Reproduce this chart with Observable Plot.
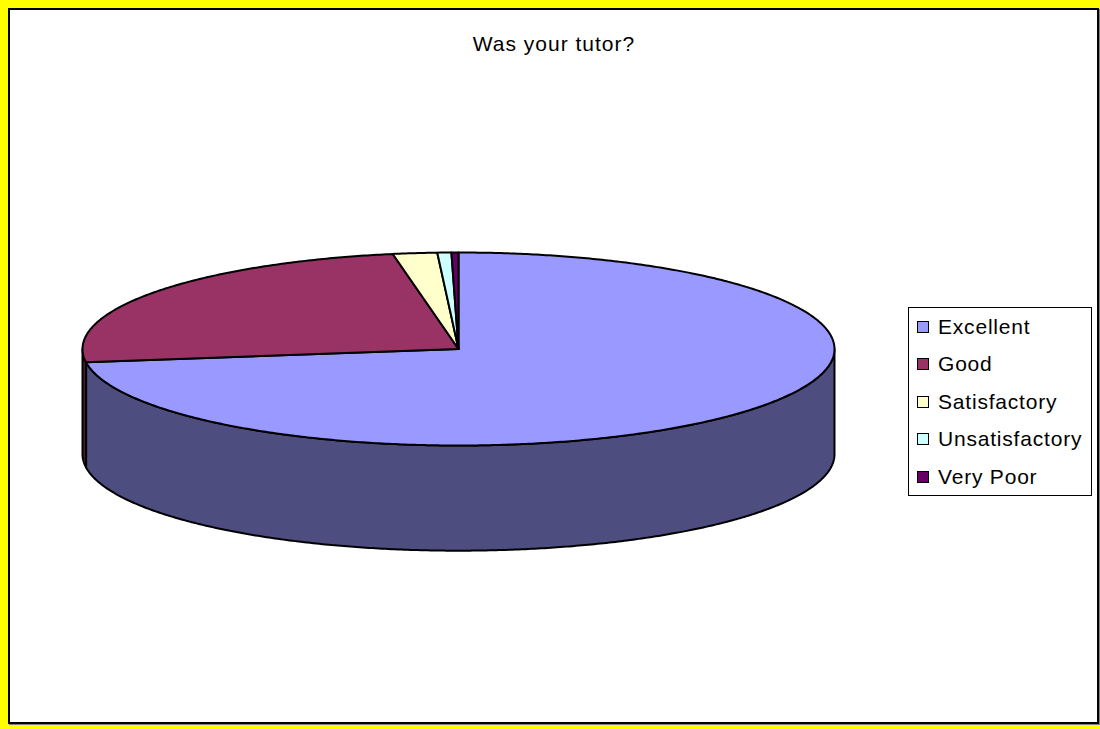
<!DOCTYPE html>
<html>
<head>
<meta charset="utf-8">
<script src="https://cdn.jsdelivr.net/npm/d3@7"></script>
<script src="https://cdn.jsdelivr.net/npm/@observablehq/plot@0.6"></script>
<style>
html, body { margin: 0; padding: 0; }
body { width: 1100px; height: 729px; background: #FFFF00; position: relative; overflow: hidden;
       font-family: Arial, "Liberation Sans", sans-serif; }
#frame { position: absolute; left: 8px; top: 8px; width: 1087px; height: 712px;
         border: 2px solid #000; background: #fff; box-shadow: 1px 1px 0 #808080; }
#title { position: absolute; left: 10px; width: 1088px; top: 33px; line-height: 21px;
         text-align: center; font-size: 21px; letter-spacing: 1px; color: #000; }
#chart { position: absolute; left: 0; top: 0; }
#legend { position: absolute; left: 908px; top: 307px; width: 182px; height: 187px;
          border: 1px solid #000; background: #fff; padding-top: 0px; box-sizing: content-box; }
.row { display: flex; align-items: center; height: 37.5px; padding-left: 8px; }
.sw { width: 10px; height: 10px; border: 1px solid #000; margin-right: 9px; flex: none; }
.lab { font-size: 21px; letter-spacing: 0.8px; color: #000; white-space: nowrap; }
</style>
</head>
<body>
<div id="frame"></div>
<div id="chart"></div>
<div id="title">Was your tutor?</div>
<div id="legend"></div>
<script>
// ---- data ----
const categories = ["Excellent", "Good", "Satisfactory", "Unsatisfactory", "Very Poor"];
const values = [72.8, 24.4, 1.9, 0.6, 0.3];
const colors = ["#9999FF", "#993366", "#FFFFCC", "#CCFFFF", "#660066"];

// ---- geometry (3D pie, angles clockwise from 12 o'clock) ----
const DEPTH = 1.09;            // wall height in units of the ellipse's vertical radius
const STEP = Math.PI / 360;
const total = d3.sum(values);
let acc = 0;
const slices = categories.map((c, i) => {
  const a0 = acc / total * 2 * Math.PI;
  acc += values[i];
  const a1 = acc / total * 2 * Math.PI;
  return {c, a0, a1, color: colors[i]};
});
function arc(a0, a1, dy) {
  const n = Math.max(2, Math.ceil((a1 - a0) / STEP));
  const out = [];
  for (let k = 0; k <= n; k++) {
    const t = a0 + (a1 - a0) * k / n;
    out.push([Math.sin(t), Math.cos(t) + dy]);
  }
  return out;
}
function darker(c) {
  const r = d3.rgb(c);
  return d3.rgb(r.r * 0.5, r.g * 0.5, r.b * 0.5).formatHex();
}
const sidePts = [];
const topPts = [];
slices.forEach(s => {
  const s0 = Math.max(s.a0, Math.PI / 2), s1 = Math.min(s.a1, 3 * Math.PI / 2);
  if (s1 > s0) {
    const upper = arc(s0, s1, 0);
    const lower = arc(s0, s1, -DEPTH).reverse();
    const poly = upper.concat(lower, [upper[0]]);
    poly.forEach(([x, y]) => sidePts.push({id: s.c, x, y, fill: darker(s.color)}));
  }
  const poly = [[0, 0]].concat(arc(s.a0, s.a1, 0), [[0, 0]]);
  poly.forEach(([x, y]) => topPts.push({id: s.c, x, y, fill: s.color}));
});

const plot = Plot.plot({
  width: 1100,
  height: 729,
  margin: 0,
  style: {background: "transparent", overflow: "visible"},
  x: {domain: [-1, 1], range: [82, 834], axis: null},
  y: {domain: [-1, 1], range: [445, 252], axis: null},
  color: {type: "identity"},
  marks: [
    Plot.line(sidePts, {x: "x", y: "y", z: "id", fill: "fill", stroke: "#000", strokeWidth: 2, strokeLinejoin: "round", curve: "linear"}),
    Plot.line(topPts, {x: "x", y: "y", z: "id", fill: "fill", stroke: "#000", strokeWidth: 2, strokeLinejoin: "round", curve: "linear"})
  ]
});
document.getElementById("chart").appendChild(plot);

// ---- legend ----
const legend = document.getElementById("legend");
categories.forEach((c, i) => {
  const row = document.createElement("div");
  row.className = "row";
  const sw = document.createElement("div");
  sw.className = "sw";
  sw.style.background = colors[i];
  const lab = document.createElement("span");
  lab.className = "lab";
  lab.textContent = c;
  row.appendChild(sw);
  row.appendChild(lab);
  legend.appendChild(row);
});
</script>
</body>
</html>
